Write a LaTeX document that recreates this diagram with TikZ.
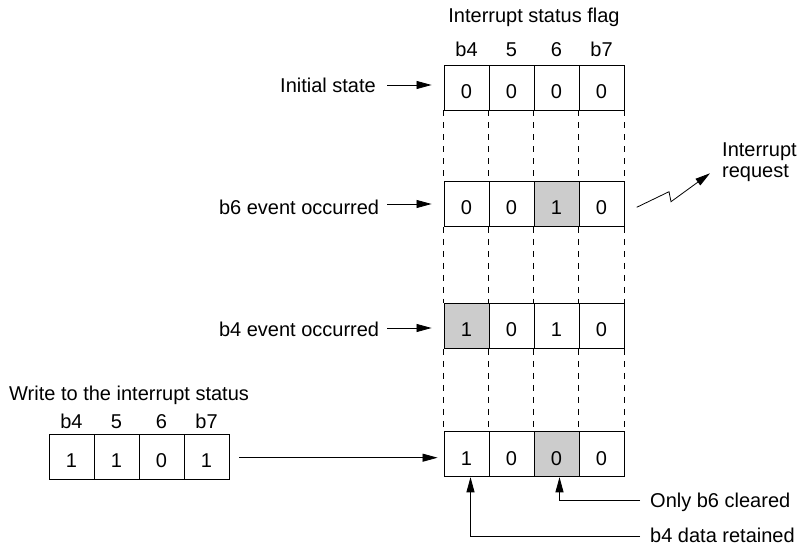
\documentclass[tikz,border=0pt]{standalone}
\usepackage{fontspec}
\setmainfont{Liberation Sans}
\usetikzlibrary{arrows.meta}
\begin{document}
\begin{tikzpicture}[x=1pt,y=-1pt,
  font=\fontsize{20}{24}\selectfont,
  cell/.style={draw, fill=white, minimum width=45pt, minimum height=45pt, inner sep=0pt, line width=0.9pt},
  hit/.style={cell, fill=black!20},
  num/.style={anchor=base, inner sep=0pt},
  lbl/.style={inner sep=0pt},
  arr/.style={-{Triangle[length=15pt,width=8pt]}, line width=0.8pt},
  guide/.style={line width=0.8pt, dash pattern=on 6pt off 6pt}]
\useasboundingbox (0,0) rectangle (800,545);

% title and headers
\node[lbl, anchor=base] (title) at (534,23) {Interrupt status flag};
\node[num] (h1) at (466.5,56.7) {b4};
\node[num] (h2) at (511.5,56.7) {5};
\node[num] (h3) at (556.5,56.7) {6};
\node[num] (h4) at (601.5,56.7) {b7};

% row 1
\node[cell] (a1) at (466.5,87.5) {};
\node[cell] (a2) at (511.5,87.5) {};
\node[cell] (a3) at (556.5,87.5) {};
\node[cell] (a4) at (601.5,87.5) {};
\node[num] at (466.5,98.3) {0};
\node[num] at (511.5,98.3) {0};
\node[num] at (556.5,98.3) {0};
\node[num] at (601.5,98.3) {0};

% row 2
\node[cell] (b1) at (466.5,204) {};
\node[cell] (b2) at (511.5,204) {};
\node[hit]  (b3) at (556.5,204) {};
\node[cell] (b4) at (601.5,204) {};
\node[num] at (466.5,215) {0};
\node[num] at (511.5,215) {0};
\node[num] at (556.5,215) {1};
\node[num] at (601.5,215) {0};

% row 3
\node[hit]  (c1) at (466.5,325.8) {};
\node[cell] (c2) at (511.5,325.8) {};
\node[cell] (c3) at (556.5,325.8) {};
\node[cell] (c4) at (601.5,325.8) {};
\node[num] at (466.5,336.5) {1};
\node[num] at (511.5,336.5) {0};
\node[num] at (556.5,336.5) {1};
\node[num] at (601.5,336.5) {0};

% row 4
\node[cell] (d1) at (466.5,454.3) {};
\node[cell] (d2) at (511.5,454.3) {};
\node[hit]  (d3) at (556.5,454.3) {};
\node[cell] (d4) at (601.5,454.3) {};
\node[num] at (466.5,465) {1};
\node[num] at (511.5,465) {0};
\node[num] at (556.5,465) {0};
\node[num] at (601.5,465) {0};

% dashed guides
\foreach \u/\l in {a/b,b/c,c/d}{
  \draw[guide] (\u1.south west) -- (\l1.north west);
  \draw[guide] (\u2.south west) -- (\l2.north west);
  \draw[guide] (\u3.south west) -- (\l3.north west);
  \draw[guide] (\u4.south west) -- (\l4.north west);
  \draw[guide] (\u4.south east) -- (\l4.north east);
}

% row labels
\node[lbl, anchor=base east] (s1) at (376,92.7) {Initial state};
\node[lbl, anchor=base east] (s2) at (379.3,215) {b6 event occurred};
\node[lbl, anchor=base east] (s3) at (379.3,336.3) {b4 event occurred};
\coordinate (s1a) at (387,85);
\coordinate (s2a) at (387,204);
\coordinate (s3a) at (387,328);
\draw[arr, shorten >=12pt] (s1a) -- (s1a -| a1.west);
\draw[arr, shorten >=12pt] (s2a) -- (s2a -| b1.west);
\draw[arr, shorten >=12pt] (s3a) -- (s3a -| c1.west);

% interrupt request
\coordinate (z0) at (636.7,207.3);
\coordinate (z1) at (669,191.7);
\coordinate (z2) at (671,201.7);
\coordinate (z3) at (710,173.3);
\draw[arr] (z0) -- (z1) -- (z2) -- (z3);
\node[lbl, anchor=base west] (irq1) at (722,156.5) {Interrupt};
\node[lbl, anchor=base west] (irq2) at (722,178) {request};

% write block
\node[lbl, anchor=base west] (wt) at (9,400) {Write to the interrupt status};
\node[num] (wh1) at (71.5,428.3) {b4};
\node[num] (wh2) at (116.5,428.3) {5};
\node[num] (wh3) at (161.5,428.3) {6};
\node[num] (wh4) at (206.5,428.3) {b7};
\node[cell] (w1) at (71.5,456.5) {};
\node[cell] (w2) at (116.5,456.5) {};
\node[cell] (w3) at (161.5,456.5) {};
\node[cell] (w4) at (206.5,456.5) {};
\node[num] at (71.5,467) {1};
\node[num] at (116.5,467) {1};
\node[num] at (161.5,467) {0};
\node[num] at (206.5,467) {1};
\coordinate (wa) at (239,457.7);
\draw[arr, shorten >=6pt] (wa) -- (wa -| d1.west);

% bottom annotations
\coordinate (o6) at (640,500.7);
\coordinate (o4) at (640,536.7);
\draw[arr] (o6) -| ([xshift=3pt]d3.south);
\draw[arr] (o4) -| ([xshift=4pt]d1.south);
\node[lbl, anchor=base west] (t6) at (650,507) {Only b6 cleared};
\node[lbl, anchor=base west] (t4) at (650,542) {b4 data retained};
\end{tikzpicture}
\end{document}
